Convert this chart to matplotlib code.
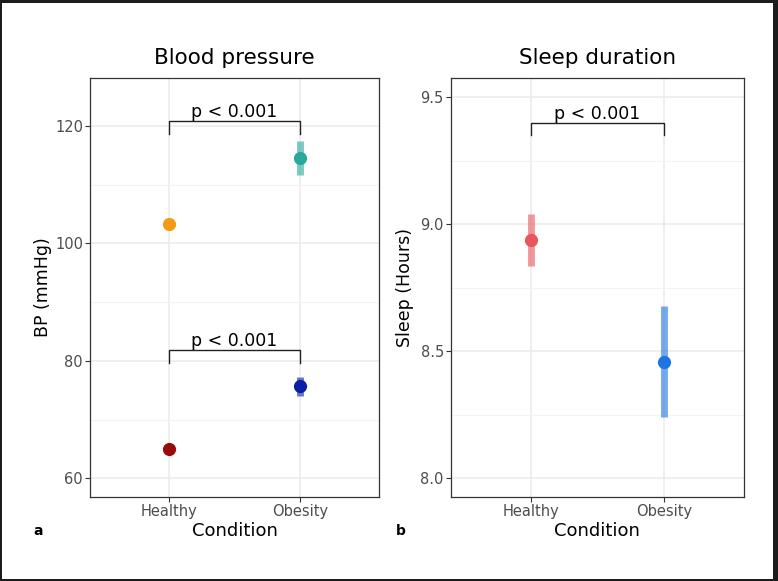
import matplotlib
matplotlib.use("Agg")
import matplotlib.pyplot as plt
from matplotlib.patches import Rectangle

# ---- data ----
categories = ["Healthy", "Obesity"]

# Panel a: blood pressure (two measures)
bp_upper_mean = [103.3, 114.6]
bp_upper_low = [102.9, 111.7]
bp_upper_high = [103.7, 117.4]
bp_lower_mean = [64.9, 75.7]
bp_lower_low = [64.6, 74.0]
bp_lower_high = [65.2, 77.3]
bp_upper_colors = ["#F59A14", "#2BA89C"]
bp_lower_colors = ["#990A0A", "#0A1FA6"]
bp_brackets = [(120.9, 118.6, "p < 0.001"), (81.9, 79.7, "p < 0.001")]
bp_ticks = [60, 80, 100, 120]

# Panel b: sleep duration
sleep_mean = [8.937, 8.459]
sleep_low = [8.836, 8.24]
sleep_high = [9.04, 8.68]
sleep_colors = ["#E8575C", "#1F74E3"]
sleep_brackets = [(9.40, 9.353, "p < 0.001")]
sleep_ticks = [8.0, 8.5, 9.0, 9.5]

W, H = 778, 581
fig = plt.figure(figsize=(W / 100, H / 100), dpi=100)
fig.patch.set_facecolor("#1c1c1c")
fig.patches.append(Rectangle((2 / W, 2.5 / H), (773 - 2) / W, (578.5 - 2.5) / H,
                             transform=fig.transFigure, facecolor="white",
                             edgecolor="none", zorder=-10))

def px_axes(l, r, t, b):
    return fig.add_axes([l / W, (H - b) / H, (r - l) / W, (b - t) / H])

ax_a = px_axes(90, 379, 78, 497)
ax_b = px_axes(450.7, 744, 78, 497)

def style(ax, ylim, ticks, title, ylabel, fmt, ylabelpad):
    ax.set_xlim(0.4, 2.6)
    ax.set_ylim(*ylim)
    ax.set_xticks([1, 2])
    ax.set_xticklabels(categories)
    ax.set_yticks(ticks)
    ax.set_yticklabels([fmt.format(t) for t in ticks])
    minor = [(ticks[i] + ticks[i + 1]) / 2 for i in range(len(ticks) - 1)]
    ax.set_yticks(minor, minor=True)
    ax.grid(True, which="major", color="#EBEBEB", lw=1.1, zorder=0)
    ax.grid(True, which="minor", axis="y", color="#F3F3F3", lw=0.8, zorder=0)
    ax.tick_params(which="minor", length=0)
    ax.tick_params(which="major", length=3.5, width=0.8, color="#333333",
                   labelsize=10.5, labelcolor="#4D4D4D", pad=1.5)
    for s in ax.spines.values():
        s.set_color("#333333")
        s.set_linewidth(0.9)
    ax.set_axisbelow(True)
    ax.set_title(title, fontsize=15.5, pad=10)
    ax.set_xlabel("Condition", fontsize=13, labelpad=2)
    ax.set_ylabel(ylabel, fontsize=12.5, labelpad=ylabelpad)

def points(ax, mean, low, high, colors):
    for i, (m, lo, hi, c) in enumerate(zip(mean, low, high, colors)):
        x = i + 1
        ax.plot([x, x], [lo, hi], color=c, lw=5, alpha=0.6, solid_capstyle="butt", zorder=3)
        ax.plot([x], [m], "o", color=c, ms=9.5, mec="none", zorder=4)

def bracket(ax, ytop, ybot, label):
    ax.plot([1, 1, 2, 2], [ybot, ytop, ytop, ybot], color="#222222", lw=1.0, zorder=5)
    ax.text(1.5, ytop, label, ha="center", va="bottom", fontsize=12.5, zorder=6)

style(ax_a, (56.8, 128.2), bp_ticks, "Blood pressure", "BP (mmHg)", "{:d}", 2.5)
points(ax_a, bp_upper_mean, bp_upper_low, bp_upper_high, bp_upper_colors)
points(ax_a, bp_lower_mean, bp_lower_low, bp_lower_high, bp_lower_colors)
for yt, yb, lab in bp_brackets:
    bracket(ax_a, yt, yb, lab)

style(ax_b, (7.926, 9.576), sleep_ticks, "Sleep duration", "Sleep (Hours)", "{:.1f}", 4.5)
points(ax_b, sleep_mean, sleep_low, sleep_high, sleep_colors)
for yt, yb, lab in sleep_brackets:
    bracket(ax_b, yt, yb, lab)

fig.text(33 / W, (H - 531) / H, "a", fontsize=10, fontweight="bold", va="center")
fig.text(396 / W, (H - 531) / H, "b", fontsize=10, fontweight="bold", va="center")

fig.savefig("out.png", dpi=100, facecolor=fig.get_facecolor())
